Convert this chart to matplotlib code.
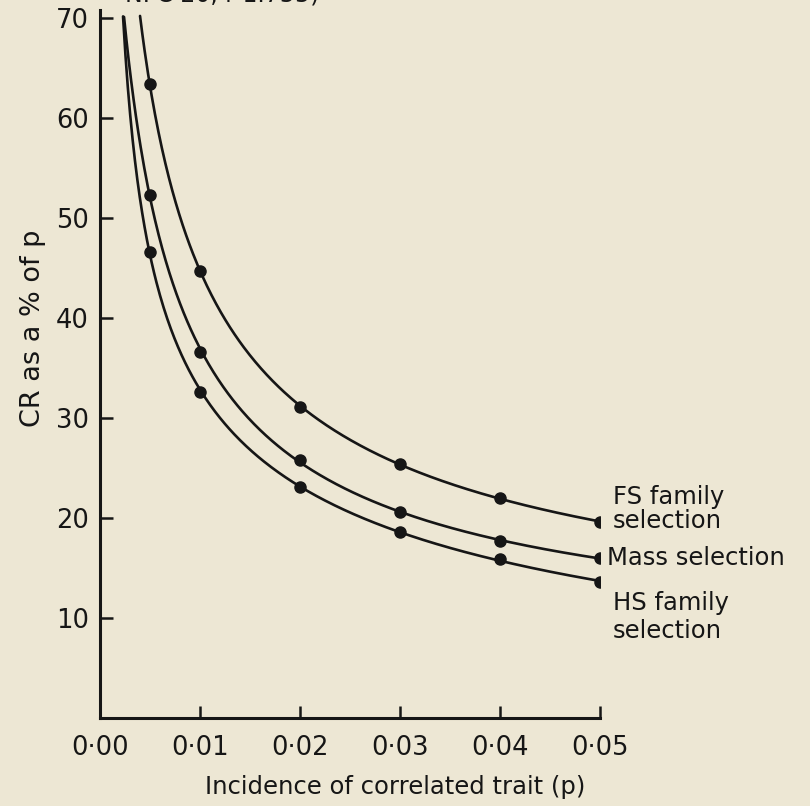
import numpy as np
import matplotlib
matplotlib.use("Agg")
import matplotlib.pyplot as plt

# incidence of correlated trait (p)
p = [0.005, 0.01, 0.02, 0.03, 0.04, 0.05]

# CR as % of p
fs_family = [63.4, 44.7, 31.1, 25.4, 22.0, 19.6]
mass_sel = [52.3, 36.6, 25.8, 20.6, 17.7, 16.0]
hs_family = [46.6, 32.6, 23.1, 18.6, 15.9, 13.6]

# where each curve leaves the top of the plot (p at CR = 70)
curve_top_p = [0.0040, 0.0024, 0.0023]

xticks = [0.00, 0.01, 0.02, 0.03, 0.04, 0.05]
xtick_labels = ["0·00", "0·01", "0·02", "0·03", "0·04", "0·05"]
yticks = [10, 20, 30, 40, 50, 60, 70]

bg = "#ede7d4"
ink = "#161616"
plt.rcParams["font.family"] = ["DejaVu Sans"]

fig = plt.figure(figsize=(8.1, 8.06), dpi=100, facecolor=bg)
ax = fig.add_axes([0.1235, 0.109, 0.6172, 0.879])
ax.set_facecolor(bg)

series = [fs_family, mass_sel, hs_family]
for vals, ptop in zip(series, curve_top_p):
    xs = np.log(np.array([ptop] + p))
    ys = np.log(np.array([70.0] + vals))
    coef = np.polyfit(xs, ys, 3)
    xx = np.linspace(ptop, 0.05, 400)
    yy = np.exp(np.polyval(coef, np.log(xx)))
    ax.plot(xx, yy, color=ink, lw=1.9, solid_capstyle="round")
    ax.plot(p, vals, "o", color=ink, ms=8)

ax.set_xlim(0, 0.05)
ax.set_ylim(0, 70.8)
ax.set_xticks(xticks)
ax.set_xticklabels(xtick_labels)
ax.set_yticks(yticks)
ax.tick_params(direction="in", length=9, width=1.8, colors=ink,
               labelsize=18.5, pad=8)
ax.tick_params(axis="x", pad=12)
for s in ["top", "right"]:
    ax.spines[s].set_visible(False)
for s in ["left", "bottom"]:
    ax.spines[s].set_linewidth(2.2)
    ax.spines[s].set_color(ink)
    ax.spines[s].set_clip_on(False)

# axis titles placed where the original has them (off-centre)
fig.text(395 / 810, 1 - 787 / 806, "Incidence of correlated trait (p)",
         fontsize=17.5, color=ink, ha="center", va="center")
fig.text(33 / 810, 1 - 328 / 806, "CR as a % of p", fontsize=19.5, color=ink,
         rotation=90, ha="center", va="center")

# series labels at the right ends
ax.text(0.0513, 20.9, "FS family\nselection", fontsize=17.5, color=ink,
        va="center", ha="left", linespacing=1.05)
ax.text(0.0507, 16.0, "Mass selection", fontsize=17.5, color=ink,
        va="center", ha="left")
ax.text(0.0513, 10.1, "HS family\nselection", fontsize=17.5, color=ink,
        va="center", ha="left", linespacing=1.25)

# caption cut off at the top edge of the page
fig.text(0.154, 1.007, "NFC 20, r 1.755)", fontsize=17, color=ink,
         ha="left", va="center")

fig.savefig("out.png", dpi=100, facecolor=bg)
